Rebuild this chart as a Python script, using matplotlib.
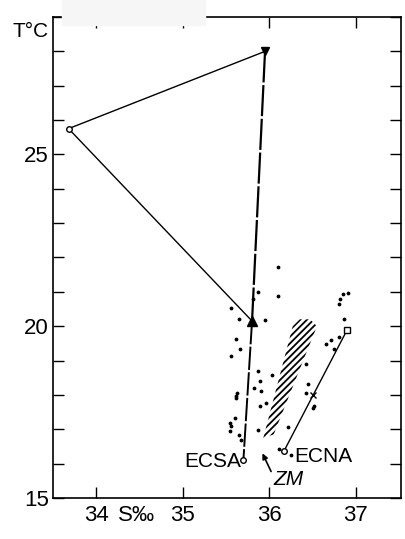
import matplotlib
matplotlib.use('Agg')
import matplotlib.pyplot as plt
from matplotlib.patches import Polygon, Rectangle

plt.rcParams['font.family'] = ['Liberation Sans', 'DejaVu Sans']
plt.rcParams['hatch.linewidth'] = 1.3

# mixing triangle: left corner, top corner, lower corner
tri_s = [33.68, 35.95, 35.80, 33.68]
tri_t = [25.75, 28.00, 20.15, 25.75]

# Central South Atlantic water line
ecsa_s = [35.80, 35.70]
ecsa_t = [20.15, 16.10]

# Central North Atlantic water line
ecna_s = [36.17, 36.90]
ecna_t = [16.37, 19.90]

# mixing zone band (ZM)
zm_s = [35.93, 36.27, 36.35, 36.47, 36.55, 36.05]
zm_t = [16.75, 20.00, 20.20, 20.20, 20.00, 16.85]

# individual observations
obs_s = [36.10, 36.10, 35.87, 35.81, 35.56, 35.65, 35.95, 35.61, 35.66, 35.56,
         35.87, 36.03, 35.89, 35.90, 35.61, 35.63, 35.89, 35.96, 35.60, 35.56,
         35.55, 35.65, 35.67, 35.87, 36.21, 36.42, 36.45, 36.42, 36.52, 36.65,
         36.71, 36.75, 36.80, 36.86, 36.80, 36.82, 36.85, 36.91, 36.11, 36.25,
         35.62, 35.54, 36.50, 35.82]
obs_t = [21.72, 20.87, 21.00, 20.79, 20.52, 20.22, 20.18, 19.64, 19.35, 19.13,
         18.69, 18.57, 18.40, 18.11, 17.96, 18.06, 17.69, 17.77, 17.33, 17.10,
         16.94, 16.84, 16.70, 16.99, 17.08, 18.89, 18.33, 18.06, 17.67, 19.49,
         19.60, 19.33, 19.69, 20.20, 20.64, 20.79, 20.94, 20.98, 16.42, 16.26,
         17.90, 17.19, 17.62, 18.20]

fs = 15

fig = plt.figure(figsize=(4.06, 5.39), dpi=100)
ax = fig.add_axes([0.1305, 0.0761, 0.857, 0.8924])

# faint grey strip above the frame
fig.patches.append(Rectangle((62 / 406, 1 - 25 / 539), 143 / 406, 25 / 539,
                             transform=fig.transFigure, color='#f6f6f6', zorder=0))

ax.plot(tri_s[:2], tri_t[:2], color='black', lw=1.0)
ax.plot(tri_s[2:], tri_t[2:], color='black', lw=1.0)
ax.plot(tri_s[1:3], tri_t[1:3], color='black', lw=1.6, ls=(0, (14, 1.2)))
ax.plot(ecsa_s, ecsa_t, color='black', lw=1.4, ls=(0, (12, 1.2)))
ax.plot(ecna_s, ecna_t, color='black', lw=1.0)

ax.add_patch(Polygon(list(zip(zm_s, zm_t)), closed=True, fill=False,
                     hatch='/////', edgecolor='black', lw=0))

ax.scatter(obs_s, obs_t, s=3, color='black', zorder=3)

# end members
ax.plot(tri_s[0], tri_t[0], 'o', ms=4, mfc='white', mec='black', mew=1, zorder=4)
ax.plot(tri_s[1], tri_t[1], 'v', ms=6, color='black', zorder=4)
ax.plot(tri_s[2], tri_t[2], '^', ms=7, color='black', zorder=4)
ax.plot(ecsa_s[1], ecsa_t[1], 'o', ms=4, mfc='white', mec='black', mew=1, zorder=4)
ax.plot(ecna_s[0], ecna_t[0], 'o', ms=4, mfc='white', mec='black', mew=1, zorder=4)
ax.plot(ecna_s[1], ecna_t[1], 's', ms=4, mfc='white', mec='black', mew=1, zorder=4)
ax.plot(36.5, 18.0, 'x', ms=4, color='black', mew=1, zorder=4)

ax.text(35.67, 16.05, 'ECSA', ha='right', va='center', fontsize=fs)
ax.text(36.29, 16.2, 'ECNA', ha='left', va='center', fontsize=fs)
ax.text(36.22, 15.55, 'ZM', ha='center', va='center', fontsize=fs, style='italic')
ax.annotate('', xy=(35.92, 16.3), xytext=(36.02, 15.77),
            arrowprops=dict(arrowstyle='-|>', color='black', lw=1.2,
                            mutation_scale=8, shrinkA=0, shrinkB=0))

ax.set_xlim(33.5, 37.52)
ax.set_ylim(15, 29)
ax.set_xticks([34, 35, 36, 37])
ax.set_yticks([15, 20, 25])
ax.set_yticks(range(15, 30), minor=True)
ax.tick_params(which='both', direction='in', length=8, width=1, top=True, right=True,
               labelsize=fs + 1)
ax.tick_params(axis='x', pad=5)
ax.tick_params(axis='y', pad=3)
for sp in ax.spines.values():
    sp.set_linewidth(1.2)

ax.annotate('S‰', xy=(34.47, 0), xycoords=('data', 'axes fraction'),
            xytext=(0, -5), textcoords='offset points', ha='center', va='top',
            fontsize=fs + 1)
fig.text(0.076, 0.941, 'T°C', ha='center', va='center', fontsize=fs)

fig.savefig('out.png', dpi=100)
